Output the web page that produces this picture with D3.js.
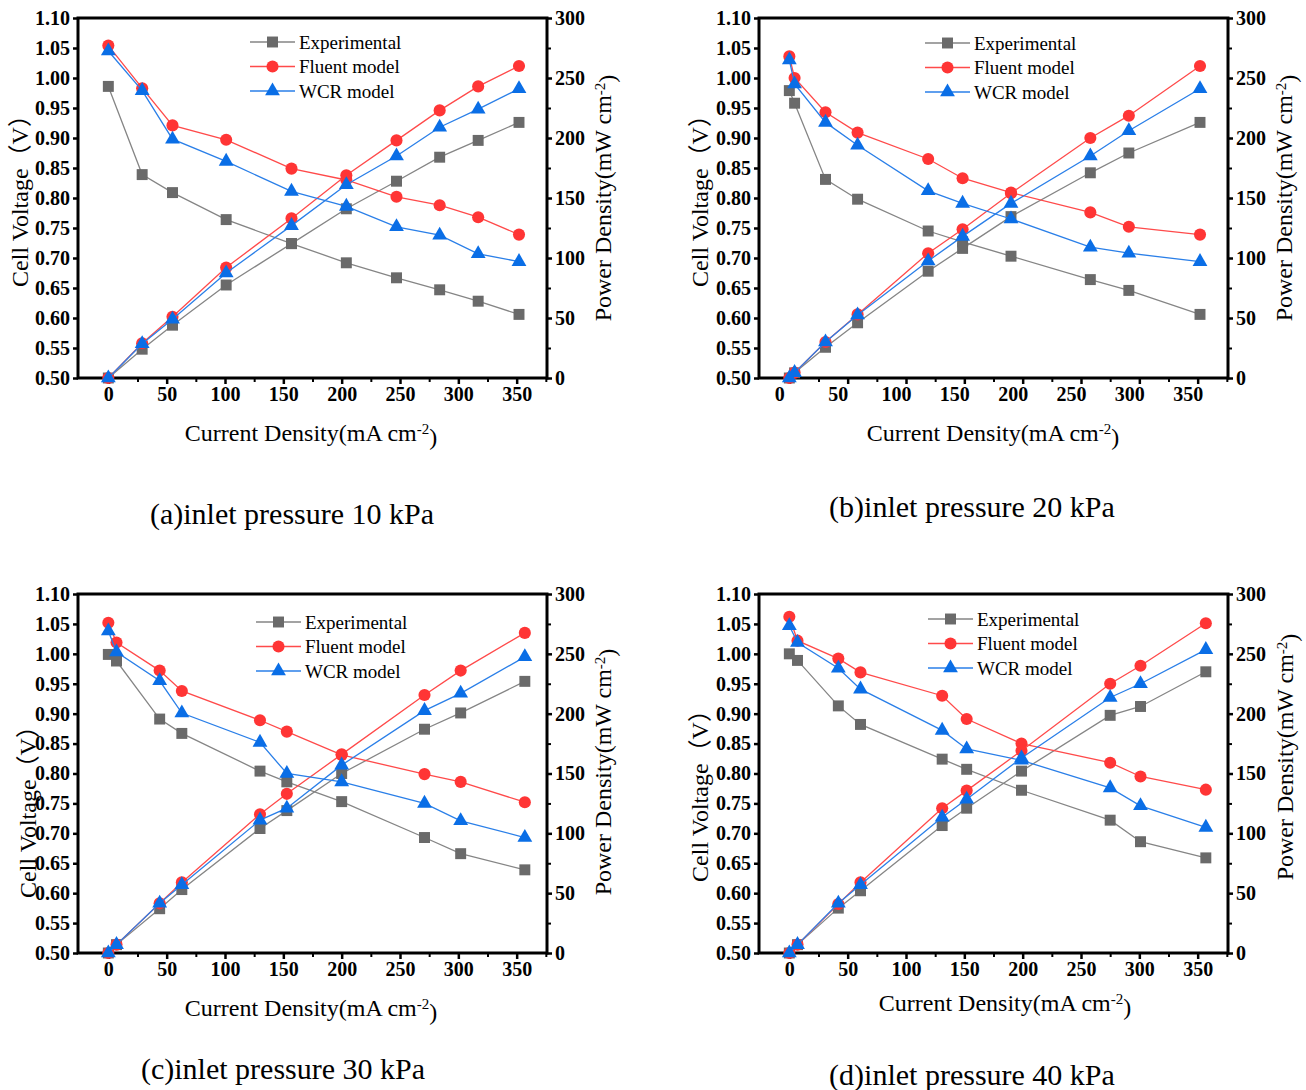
<!DOCTYPE html>
<html>
<head>
<meta charset="utf-8">
<script src="https://cdn.jsdelivr.net/npm/d3@7/dist/d3.min.js"></script>
<style>
  body { margin: 0; background: #fff; }
  svg text { font-family: "Liberation Serif", "Times New Roman", "Noto Sans CJK SC", serif; fill: #000; }
</style>
</head>
<body>
<svg id="chart" width="1306" height="1090"></svg>
<script>
//
// D A T A
//
var seriesNames = ['Experimental', 'Fluent model', 'WCR model'];
var xTicks      = [0, 50, 100, 150, 200, 250, 300, 350];
var xMinor      = [25, 75, 125, 175, 225, 275, 325, 375];
var voltTicks   = [0.50, 0.55, 0.60, 0.65, 0.70, 0.75, 0.80, 0.85, 0.90, 0.95, 1.00, 1.05, 1.10];
var powerTicks  = [0, 50, 100, 150, 200, 250, 300];
var powerMinor  = [25, 75, 125, 175, 225, 275];
var captions    = ['(a)inlet pressure 10 kPa', '(b)inlet pressure 20 kPa', '(c)inlet pressure 30 kPa', '(d)inlet pressure 40 kPa'];

// (a) 10 kPa
var currentA  = [0, 29, 55, 101, 157, 204, 247, 284, 317, 352];
var expVoltA  = [0.986, 0.839, 0.809, 0.764, 0.724, 0.692, 0.667, 0.647, 0.628, 0.606];
var expPowA   = [0, 24, 44, 77.5, 112, 141, 164, 184, 198, 213];
var fluVoltA  = [1.054, 0.983, 0.921, 0.897, 0.849, 0.830, 0.802, 0.788, 0.768, 0.739];
var fluPowA   = [0, 29, 51, 92, 133, 169, 198, 223, 243, 260];
var wcrVoltA  = [1.045, 0.979, 0.898, 0.861, 0.811, 0.786, 0.752, 0.738, 0.707, 0.694];
var wcrPowA   = [0, 28.5, 49, 87.5, 127, 161, 185, 209, 224, 241];

// (b) 20 kPa
var currentB  = [0, 4.5, 31, 58.5, 119, 148.5, 190, 258, 291, 352];
var expVoltB  = [0.979, 0.958, 0.831, 0.798, 0.745, 0.727, 0.703, 0.664, 0.646, 0.606];
var expPowB   = [0, 4.3, 25.6, 46, 89, 108, 134.5, 171, 187.5, 213];
var fluVoltB  = [1.036, 1.000, 0.943, 0.909, 0.865, 0.833, 0.809, 0.776, 0.752, 0.739];
var fluPowB   = [0, 4.5, 30, 53, 104, 124, 154, 200, 218.6, 260];
var wcrVoltB  = [1.030, 0.990, 0.926, 0.888, 0.812, 0.791, 0.765, 0.718, 0.708, 0.694];
var wcrPowB   = [0, 4.5, 30, 52.5, 97.5, 118, 145.5, 185, 206, 241];

// (c) 30 kPa
var currentC  = [0, 7, 44, 63, 130, 153, 200, 271, 302, 357];
var expVoltC  = [0.999, 0.988, 0.891, 0.867, 0.804, 0.786, 0.753, 0.693, 0.666, 0.639];
var expPowC   = [0, 7, 37, 53, 104, 119, 150, 187, 200.6, 227];
var fluVoltC  = [1.052, 1.019, 0.972, 0.938, 0.889, 0.870, 0.831, 0.799, 0.786, 0.752];
var fluPowC   = [0, 7, 41.5, 59, 116, 133, 166, 215.6, 236, 267.5];
var wcrVoltC  = [1.038, 1.003, 0.955, 0.901, 0.852, 0.800, 0.786, 0.750, 0.721, 0.693];
var wcrPowC   = [0, 7, 41.5, 57, 111, 121, 157, 202.5, 217, 247.5];

// (d) 40 kPa
var currentD  = [0, 7, 42, 61, 131, 152, 199, 275, 301, 357];
var expVoltD  = [1.000, 0.989, 0.913, 0.882, 0.824, 0.807, 0.772, 0.722, 0.686, 0.659];
var expPowD   = [0, 7, 37.5, 52, 106.5, 121, 152, 198.6, 206, 235];
var fluVoltD  = [1.062, 1.022, 0.992, 0.969, 0.930, 0.891, 0.850, 0.818, 0.795, 0.773];
var fluPowD   = [0, 7, 41, 59, 121, 135.7, 169, 225, 240, 275.5];
var wcrVoltD  = [1.047, 1.019, 0.976, 0.941, 0.872, 0.841, 0.822, 0.776, 0.746, 0.710];
var wcrPowD   = [0, 7, 41.5, 57, 113.5, 128.5, 163, 213.5, 225, 253.5];

//
// S T Y L E S
//
var lineColors   = ['#858585', '#ff4a4a', '#2a7fe8'];
var markerColors = ['#6a6a6a', '#ff3535', '#0a6ee6'];
var markerShapes = [d3.symbolSquare, d3.symbolCircle, d3.symbolTriangle];
var markerSizes  = [120, 115, 95];

//
// P A N E L   S E T U P
//
var panels = [
  { cur: currentA, volt: [expVoltA, fluVoltA, wcrVoltA], pow: [expPowA, fluPowA, wcrPowA],
    left: 78, right: 547, top: 18, bottom: 378, labShift: 0,
    yLabX: 20, yLabY: 195, pLabX: 603, pLabY: 198, xLabX: 311, xLabY: 441,
    legX: 250, legY: 42, capX: 292, capY: 524 },
  { cur: currentB, volt: [expVoltB, fluVoltB, wcrVoltB], pow: [expPowB, fluPowB, wcrPowB],
    left: 759, right: 1228, top: 18, bottom: 378, labShift: -10,
    yLabX: 700, yLabY: 195, pLabX: 1284, pLabY: 198, xLabX: 993, xLabY: 441,
    legX: 925, legY: 43, capX: 972, capY: 517 },
  { cur: currentC, volt: [expVoltC, fluVoltC, wcrVoltC], pow: [expPowC, fluPowC, wcrPowC],
    left: 78, right: 547, top: 594, bottom: 953, labShift: 0,
    yLabX: 28, yLabY: 806, pLabX: 603, pLabY: 772, xLabX: 311, xLabY: 1016,
    legX: 256, legY: 622, capX: 283, capY: 1079 },
  { cur: currentD, volt: [expVoltD, fluVoltD, wcrVoltD], pow: [expPowD, fluPowD, wcrPowD],
    left: 759, right: 1228, top: 594, bottom: 953, labShift: 0,
    yLabX: 700, yLabY: 790, pLabX: 1285, pLabY: 757, xLabX: 1005, xLabY: 1011,
    legX: 928, legY: 619, capX: 972, capY: 1085 }
];

var svg = d3.select('#chart');

function styleAxis(sel, w) {
  sel.select('.domain').remove();
  sel.selectAll('.tick line').attr('stroke', '#000').attr('stroke-width', w);
  sel.selectAll('.tick text')
    .style('font-size', '20px')
    .style('font-weight', 'bold');
}

function drawPanel(p, idx) {
  var g = svg.append('g');

  var x  = d3.scaleLinear().domain([-26, 376]).range([p.left, p.right]);
  var yV = d3.scaleLinear().domain([0.5, 1.1]).range([p.bottom, p.top]);
  var yP = d3.scaleLinear().domain([0, 300]).range([p.bottom, p.top]);

  // minor ticks first
  g.append('g').attr('transform', 'translate(0,' + p.bottom + ')')
    .call(d3.axisBottom(x).tickValues(xMinor.filter(function(d){ return d < 376; })).tickSize(4).tickFormat(''))
    .call(styleAxis, 2);
  g.append('g').attr('transform', 'translate(' + p.right + ',0)')
    .call(d3.axisRight(yP).tickValues(powerMinor).tickSize(4).tickFormat(''))
    .call(styleAxis, 2);

  // major ticks
  var xa = g.append('g').attr('transform', 'translate(0,' + p.bottom + ')')
    .call(d3.axisBottom(x).tickValues(xTicks).tickSize(6).tickPadding(3).tickFormat(d3.format('d')))
    .call(styleAxis, 2.5);
  xa.selectAll('.tick text').attr('dx', p.labShift);

  g.append('g').attr('transform', 'translate(' + p.left + ',0)')
    .call(d3.axisLeft(yV).tickValues(voltTicks).tickSize(5).tickPadding(3).tickFormat(d3.format('.2f')))
    .call(styleAxis, 2.5);

  g.append('g').attr('transform', 'translate(' + p.right + ',0)')
    .call(d3.axisRight(yP).tickValues(powerTicks).tickSize(5).tickPadding(3).tickFormat(d3.format('d')))
    .call(styleAxis, 2.5);

  // frame
  g.append('rect')
    .attr('x', p.left).attr('y', p.top)
    .attr('width', p.right - p.left).attr('height', p.bottom - p.top)
    .attr('fill', 'none').attr('stroke', '#000').attr('stroke-width', 3);

  // series: voltage and power for each model
  [0, 1, 2].forEach(function(s){
    [[p.volt[s], yV], [p.pow[s], yP]].forEach(function(pair){
      var pts = p.cur.map(function(c, i){ return [c, pair[0][i]]; });
      var line = d3.line()
        .x(function(d){ return x(d[0]); })
        .y(function(d){ return pair[1](d[1]); });
      g.append('path').datum(pts)
        .attr('d', line)
        .attr('fill', 'none')
        .attr('stroke', lineColors[s])
        .attr('stroke-width', 1.3);
      g.selectAll(null).data(pts).enter().append('path')
        .attr('transform', function(d){ return 'translate(' + x(d[0]) + ',' + pair[1](d[1]) + ')'; })
        .attr('d', d3.symbol().type(markerShapes[s]).size(markerSizes[s]))
        .attr('fill', markerColors[s]);
    });
  });

  // legend
  seriesNames.forEach(function(name, s){
    var ly = p.legY + s * 24.5;
    g.append('line')
      .attr('x1', p.legX).attr('x2', p.legX + 45)
      .attr('y1', ly).attr('y2', ly)
      .attr('stroke', lineColors[s]).attr('stroke-width', 1.3);
    g.append('path')
      .attr('transform', 'translate(' + (p.legX + 22.5) + ',' + ly + ')')
      .attr('d', d3.symbol().type(markerShapes[s]).size(markerSizes[s]))
      .attr('fill', markerColors[s]);
    g.append('text')
      .attr('x', p.legX + 49).attr('y', ly)
      .attr('dy', '0.35em')
      .style('font-size', '19px')
      .text(name);
  });

  // axis titles
  g.append('text')
    .attr('transform', 'translate(' + p.yLabX + ',' + p.yLabY + ') rotate(-90)')
    .attr('text-anchor', 'middle')
    .attr('dy', '0.35em')
    .style('font-size', '24px')
    .text('Cell Voltage（V）');

  var pt = g.append('text')
    .attr('transform', 'translate(' + p.pLabX + ',' + p.pLabY + ') rotate(-90)')
    .attr('text-anchor', 'middle')
    .attr('dy', '0.35em')
    .style('font-size', '24px');
  pt.append('tspan').text('Power Density(mW cm');
  pt.append('tspan').attr('dy', '-0.45em').style('font-size', '15px').text('-2');
  pt.append('tspan').attr('dy', '0.45em').text(')');

  var xt = g.append('text')
    .attr('x', p.xLabX).attr('y', p.xLabY)
    .attr('text-anchor', 'middle')
    .style('font-size', '24px');
  xt.append('tspan').text('Current Density(mA cm');
  xt.append('tspan').attr('dy', '-0.45em').style('font-size', '15px').text('-2');
  xt.append('tspan').attr('dy', '0.45em').text(')');

  // caption
  svg.append('text')
    .attr('x', p.capX).attr('y', p.capY)
    .attr('text-anchor', 'middle')
    .style('font-size', '30px')
    .text(captions[idx]);
}

panels.forEach(drawPanel);
</script>
</body>
</html>
